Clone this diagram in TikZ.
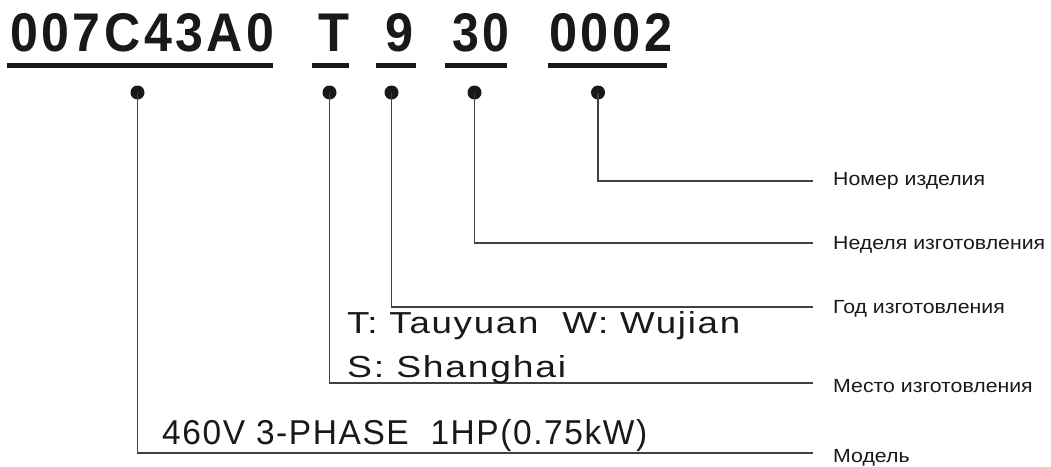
\documentclass[tikz,border=0pt]{standalone}
\usepackage{fontspec}
\setmainfont{Liberation Sans}
\newfontfamily\narrowfont[FakeStretch=0.85,LetterSpace=4]{Liberation Sans}
\newfontfamily\narrowbold[FakeStretch=0.85,LetterSpace=6]{Liberation Sans Bold}
\usepackage{graphicx}
\begin{document}
\begin{tikzpicture}[x=1pt,y=-1pt,
  lead/.style={draw=black!75, line width=1.2pt},
  dotm/.style={circle, fill=black!90, inner sep=0pt, minimum size=14pt},
  uline/.style={line width=4.5pt, draw=black!90},
  lbl/.style={anchor=west, inner sep=0pt, font=\fontsize{19}{22}\selectfont, text=black!90},
  txt/.style={anchor=base west, inner sep=0pt, text=black!90}]
\useasboundingbox (0,0) rectangle (1051,466);
% code parts
\node[txt] (c1) at (10,51) {\resizebox{264pt}{38pt}{\narrowbold 007C43A0}};
\node[txt] (c2) at (318,51) {\resizebox{31pt}{37.5pt}{\bfseries T}};
\node[txt] (c3) at (385,51) {\resizebox{28pt}{38pt}{\bfseries 9}};
\node[txt] (c4) at (452,51) {\resizebox{57pt}{38pt}{\narrowbold 30}};
\node[txt] (c5) at (549,51) {\resizebox{123pt}{38pt}{\narrowbold 0002}};
% underlines
\draw[uline] (7,65.5) -- (273,65.5);
\draw[uline] (312,65.5) -- (349,65.5);
\draw[uline] (376,65.5) -- (416,65.5);
\draw[uline] (445,65.5) -- (507,65.5);
\draw[uline] (548,65.5) -- (667,65.5);
% dots
\node[dotm] (d1) at (137.5,92.5) {};
\node[dotm] (d2) at (329.5,92.5) {};
\node[dotm] (d3) at (391.5,92.5) {};
\node[dotm] (d4) at (474.5,92.5) {};
\node[dotm] (d5) at (598,92.5) {};
% line ends
\coordinate (e1) at (813,453);
\coordinate (e2) at (813,383);
\coordinate (e3) at (813,307);
\coordinate (e4) at (813,243);
\coordinate (e5) at (813,181);
\draw[lead] (d1.center) |- (e1);
\draw[lead] (d2.center) |- (e2);
\draw[lead] (d3.center) |- (e3);
\draw[lead] (d4.center) |- (e4);
\draw[lead] (d5.center) |- (e5);
% labels
\node[lbl] (l5) at (833,181) {\scalebox{1.12}[1]{Номер изделия}};
\node[lbl] (l4) at (833,245) {\scalebox{1.12}[1]{Неделя изготовления}};
\node[lbl] (l3) at (833,309) {\scalebox{1.12}[1]{Год изготовления}};
\node[lbl] (l2) at (833,386) {\scalebox{1.12}[1]{Место изготовления}};
\node[lbl] (l1) at (833,458) {\scalebox{1.12}[1]{Модель}};
% descriptive texts
\node[txt] (t1) at (347,333) {\resizebox{393pt}{22pt}{\narrowfont T: Tauyuan\ \ W: Wujian}};
\node[txt] (t2) at (347,377) {\resizebox{219pt}{22pt}{\narrowfont S: Shanghai}};
\node[txt] (t3) at (162,444) {\resizebox{485pt}{25pt}{\narrowfont 460V 3-PHASE\ \ 1HP(0.75kW)}};
\end{tikzpicture}
\end{document}
